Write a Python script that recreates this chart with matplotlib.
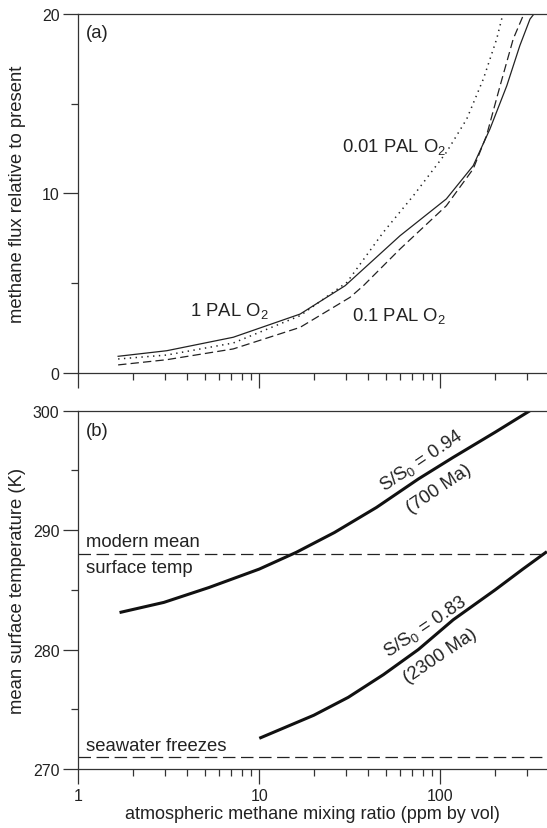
import matplotlib
matplotlib.use("Agg")
import matplotlib.pyplot as plt
from matplotlib.ticker import LogLocator, FixedLocator, NullFormatter, FixedFormatter

plt.rcParams['font.family'] = ['Liberation Sans', 'DejaVu Sans']
plt.rcParams['mathtext.fontset'] = 'custom'
plt.rcParams['mathtext.rm'] = 'Liberation Sans'
plt.rcParams['mathtext.it'] = 'Liberation Sans:italic'
plt.rcParams['lines.scale_dashes'] = False

INK = '#222222'

# (a) methane flux relative to present vs. mixing ratio, for three O2 levels
x_1pal = [1.66, 3.08, 7.18, 16.8, 29.8, 59.9, 108, 152, 188, 233, 275, 313, 330]
flux_1pal = [0.93, 1.24, 1.99, 3.28, 4.86, 7.64, 9.69, 11.54, 13.58, 15.99, 18.22, 19.7, 20.0]

x_001pal = [1.66, 3.08, 7.18, 16.8, 30.5, 48.4, 71, 108, 140, 173, 205, 222]
flux_001pal = [0.78, 1.00, 1.67, 3.19, 5.05, 7.83, 9.87, 12.28, 14.14, 16.37, 18.6, 20.0]

x_01pal = [1.66, 3.08, 7.18, 16.8, 31.7, 37.6, 59.9, 108, 152, 180, 214, 253, 290]
flux_01pal = [0.45, 0.74, 1.34, 2.54, 4.21, 4.86, 6.9, 9.31, 11.36, 13.21, 15.99, 18.6, 20.0]

# (b) mean surface temperature vs. mixing ratio, for two solar luminosities
x_s094 = [1.69, 2.97, 5.28, 10, 16, 26, 44.4, 75.6, 118, 201, 313]
temp_s094 = [283.1, 283.95, 285.2, 286.74, 288.14, 289.8, 291.9, 294.28, 296.1, 298.2, 300.0]

x_s083 = [10, 20, 31, 48.5, 75.6, 118, 201, 286, 388]
temp_s083 = [272.57, 274.5, 276.0, 277.9, 280.0, 282.5, 285.0, 286.74, 288.2]

modern_mean_temp = 288.0
seawater_freeze_temp = 271.0

flux_ticks = [0, 10, 20]
temp_ticks = [270, 280, 290, 300]
x_tick_values = [1, 10, 100]
x_tick_labels = ['1', '10', '100']

W, H = 547, 829
fig = plt.figure(figsize=(W / 100, H / 100), dpi=100)

left = 78.3 / W
width = 1.0 - left
ax_a = fig.add_axes([left, 1 - 374 / H, width, (374 - 14.7) / H])
ax_b = fig.add_axes([left, 1 - 770 / H, width, (770 - 411.7) / H])

XMAX = 10 ** ((W - 78.3) / 181.0)

for ax in (ax_a, ax_b):
    ax.set_xscale('log')
    ax.set_xlim(1, XMAX)
    ax.spines['right'].set_visible(False)
    for s in ('left', 'top', 'bottom'):
        ax.spines[s].set_color('#333333')
        ax.spines[s].set_linewidth(0.9)
    ax.xaxis.set_major_locator(FixedLocator(x_tick_values))
    ax.xaxis.set_minor_locator(LogLocator(base=10, subs=range(2, 10)))
    ax.xaxis.set_minor_formatter(NullFormatter())
    ax.tick_params(axis='both', which='major', direction='out', length=10.5,
                   width=0.9, color='#333333', labelsize=11.5, labelcolor=INK, pad=3)
    ax.tick_params(axis='both', which='minor', direction='out', length=5,
                   width=0.9, color='#333333')
    ax.tick_params(axis='x', which='both', top=False)
    ax.tick_params(axis='y', which='both', right=False)

ANN = 13.3

# ---- panel (a)
lw_a = 0.9
ax_a.plot(x_1pal, flux_1pal, color=INK, lw=lw_a, linestyle='-')
ax_a.plot(x_001pal, flux_001pal, color=INK, lw=1.1, linestyle=(0, (1.0, 3.2)))
ax_a.plot(x_01pal, flux_01pal, color=INK, lw=lw_a, linestyle=(0, (6.0, 3.0)))
ax_a.set_ylim(0, 20)
ax_a.yaxis.set_major_locator(FixedLocator(flux_ticks))
ax_a.yaxis.set_minor_locator(FixedLocator([5, 15]))
ax_a.xaxis.set_major_formatter(NullFormatter())
ax_a.set_ylabel('methane flux relative to present', fontsize=13.3, color=INK)
ax_a.yaxis.set_label_coords((18 - 78.3) / (W - 78.3), 0.5)
ax_a.yaxis.label.set_verticalalignment('center')

ax_a.text(0.017, 0.949, '(a)', transform=ax_a.transAxes, fontsize=ANN,
          color=INK, ha='left', va='center')
ax_a.text(28.7, 12.34, r'0.01 PAL O$_2$', fontsize=ANN, color=INK, ha='left', va='baseline')
ax_a.text(4.14, 3.23, r'1 PAL O$_2$', fontsize=ANN, color=INK, ha='left', va='baseline')
ax_a.text(32.5, 2.97, r'0.1 PAL O$_2$', fontsize=ANN, color=INK, ha='left', va='baseline')

# ---- panel (b)
ax_b.plot(x_s094, temp_s094, color='#111111', lw=2.2, solid_capstyle='butt')
ax_b.plot(x_s083, temp_s083, color='#111111', lw=2.2, solid_capstyle='butt')
for t in (modern_mean_temp, seawater_freeze_temp):
    ax_b.axhline(t, color=INK, lw=0.9, linestyle=(0, (9.0, 4.0)))
ax_b.set_ylim(270, 300)
ax_b.yaxis.set_major_locator(FixedLocator(temp_ticks))
ax_b.yaxis.set_minor_locator(FixedLocator([275, 285, 295]))
ax_b.xaxis.set_major_formatter(FixedFormatter(x_tick_labels))
ax_b.set_ylabel('mean surface temperature (K)', fontsize=13.3, color=INK)
ax_b.yaxis.set_label_coords((18 - 78.3) / (W - 78.3), 0.5)
ax_b.yaxis.label.set_verticalalignment('center')
ax_b.set_xlabel('atmospheric methane mixing ratio (ppm by vol)', fontsize=13, color=INK)
ax_b.xaxis.set_label_coords(0.5, (770 - 815) / (770 - 411.7))
ax_b.xaxis.label.set_verticalalignment('center')

ax_b.text(0.017, 0.944, '(b)', transform=ax_b.transAxes, fontsize=ANN,
          color=INK, ha='left', va='center')
ax_b.text(1.108, 288.7, 'modern mean', fontsize=ANN, color=INK, ha='left', va='baseline')
ax_b.text(1.108, 286.47, 'surface temp', fontsize=ANN, color=INK, ha='left', va='baseline')
ax_b.text(1.108, 271.62, 'seawater freezes', fontsize=ANN, color=INK, ha='left', va='baseline')

ax_b.text(78.6, 295.87, r'S/S$_0$ = 0.94', fontsize=ANN, color=INK, rotation=34,
          ha='center', va='center', rotation_mode='anchor')
ax_b.text(98.6, 293.53, '(700 Ma)', fontsize=ANN, color=INK, rotation=34,
          ha='center', va='center', rotation_mode='anchor')
ax_b.text(82.6, 282.0, r'S/S$_0$ = 0.83', fontsize=ANN, color=INK, rotation=34,
          ha='center', va='center', rotation_mode='anchor')
ax_b.text(100.6, 279.49, '(2300 Ma)', fontsize=ANN, color=INK, rotation=34,
          ha='center', va='center', rotation_mode='anchor')

fig.savefig('out.png', dpi=100)
